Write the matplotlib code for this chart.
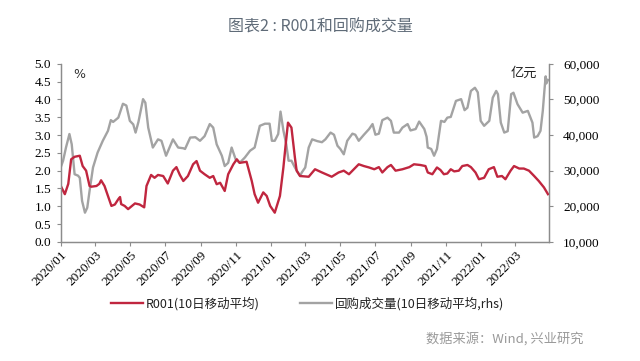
import numpy as np
import pandas as pd
import matplotlib
matplotlib.use("Agg")
import matplotlib.pyplot as plt
import matplotlib.dates as mdates
from matplotlib.ticker import FuncFormatter, MultipleLocator

# R001, 10-day moving average (%)
r001_dates = [
    "2020-01-01", "2020-01-08", "2020-01-14", "2020-01-19", "2020-01-25", "2020-02-03",
    "2020-02-08", "2020-02-14", "2020-02-20", "2020-02-23", "2020-03-03", "2020-03-08",
    "2020-03-11", "2020-03-17", "2020-03-23", "2020-03-29", "2020-04-04", "2020-04-10",
    "2020-04-13", "2020-04-15", "2020-04-21", "2020-04-27", "2020-05-03", "2020-05-09",
    "2020-05-17", "2020-05-25", "2020-05-29", "2020-06-06", "2020-06-12", "2020-06-18",
    "2020-06-27", "2020-07-05", "2020-07-14", "2020-07-20", "2020-07-26", "2020-08-01",
    "2020-08-09", "2020-08-18", "2020-08-24", "2020-08-30", "2020-09-07", "2020-09-16",
    "2020-09-22", "2020-09-28", "2020-10-04", "2020-10-12", "2020-10-18", "2020-10-27",
    "2020-11-02", "2020-11-07", "2020-11-19", "2020-11-28", "2020-12-03", "2020-12-09",
    "2020-12-18", "2020-12-24", "2020-12-30", "2021-01-07", "2021-01-16", "2021-01-22",
    "2021-01-26", "2021-01-30", "2021-02-05", "2021-02-11", "2021-02-14", "2021-02-20",
    "2021-03-07", "2021-03-18", "2021-03-30", "2021-04-16", "2021-04-28", "2021-05-07",
    "2021-05-16", "2021-06-02", "2021-06-11", "2021-06-20", "2021-06-29", "2021-07-07",
    "2021-07-13", "2021-07-22", "2021-07-28", "2021-08-05", "2021-08-17", "2021-08-29",
    "2021-09-06", "2021-09-17", "2021-09-26", "2021-09-30", "2021-10-08", "2021-10-16",
    "2021-10-22", "2021-10-28", "2021-11-03", "2021-11-09", "2021-11-15", "2021-11-23",
    "2021-11-29", "2021-12-08", "2021-12-14", "2021-12-22", "2021-12-28", "2022-01-06",
    "2022-01-14", "2022-01-23", "2022-01-29", "2022-02-06", "2022-02-12", "2022-02-21",
    "2022-02-27", "2022-03-08", "2022-03-16", "2022-03-25", "2022-04-03", "2022-04-11",
    "2022-04-20", "2022-04-27",
]
r001 = [
    1.57, 1.34, 1.63, 2.32, 2.39, 2.42,
    2.13, 2.00, 1.57, 1.55, 1.57, 1.63,
    1.73, 1.57, 1.29, 1.01, 1.05, 1.20,
    1.26, 1.06, 1.01, 0.92, 1.00, 1.08,
    1.05, 0.97, 1.57, 1.88, 1.80, 1.88,
    1.85, 1.64, 2.00, 2.10, 1.88, 1.71,
    1.85, 2.18, 2.27, 2.00, 1.90, 1.80,
    1.85, 1.62, 1.66, 1.43, 1.90, 2.18,
    2.32, 2.22, 2.25, 1.71, 1.34, 1.10,
    1.39, 1.29, 1.01, 0.82, 1.29, 2.09,
    2.74, 3.35, 3.21, 2.37, 2.00, 1.85,
    1.83, 2.04, 1.95, 1.83, 1.95, 2.00,
    1.90, 2.18, 2.13, 2.09, 2.04, 2.10,
    1.95, 2.10, 2.16, 2.00, 2.04, 2.10,
    2.18, 2.16, 2.13, 1.95, 1.90, 2.09,
    2.02, 1.90, 1.92, 2.04, 1.98, 2.00,
    2.13, 2.16, 2.10, 1.95, 1.76, 1.80,
    2.04, 2.10, 1.83, 1.85, 1.76, 2.00,
    2.13, 2.06, 2.06, 2.00, 1.85, 1.71,
    1.53, 1.34,
]

# repo turnover, 10-day moving average (100 million yuan, rhs)
repo_dates = [
    "2020-01-01", "2020-01-05", "2020-01-10", "2020-01-16", "2020-01-20", "2020-01-25",
    "2020-01-31", "2020-02-03", "2020-02-07", "2020-02-12", "2020-02-16", "2020-02-20",
    "2020-02-26", "2020-03-05", "2020-03-14", "2020-03-23", "2020-03-28", "2020-04-01",
    "2020-04-10", "2020-04-18", "2020-04-24", "2020-04-30", "2020-05-06", "2020-05-10",
    "2020-05-15", "2020-05-23", "2020-05-27", "2020-06-01", "2020-06-09", "2020-06-18",
    "2020-06-24", "2020-07-02", "2020-07-14", "2020-07-23", "2020-08-01", "2020-08-04",
    "2020-08-13", "2020-08-22", "2020-08-30", "2020-09-07", "2020-09-16", "2020-09-22",
    "2020-09-28", "2020-10-07", "2020-10-12", "2020-10-18", "2020-10-24", "2020-10-31",
    "2020-11-07", "2020-11-16", "2020-11-25", "2020-12-03", "2020-12-12", "2020-12-21",
    "2020-12-29", "2021-01-02", "2021-01-07", "2021-01-13", "2021-01-17", "2021-01-22",
    "2021-01-27", "2021-01-31", "2021-02-05", "2021-02-11", "2021-02-20", "2021-02-23",
    "2021-03-01", "2021-03-07", "2021-03-13", "2021-03-22", "2021-03-30", "2021-04-05",
    "2021-04-14", "2021-04-20", "2021-04-26", "2021-05-01", "2021-05-07", "2021-05-13",
    "2021-05-22", "2021-05-27", "2021-06-02", "2021-06-11", "2021-06-20", "2021-06-26",
    "2021-07-01", "2021-07-07", "2021-07-13", "2021-07-22", "2021-07-28", "2021-08-02",
    "2021-08-11", "2021-08-17", "2021-08-26", "2021-08-31", "2021-09-09", "2021-09-15",
    "2021-09-24", "2021-09-28", "2021-09-30", "2021-10-06", "2021-10-11", "2021-10-16",
    "2021-10-23", "2021-10-29", "2021-11-03", "2021-11-09", "2021-11-18", "2021-11-27",
    "2021-12-03", "2021-12-08", "2021-12-14", "2021-12-21", "2021-12-26", "2021-12-31",
    "2022-01-06", "2022-01-15", "2022-01-21", "2022-01-27", "2022-01-30", "2022-02-04",
    "2022-02-10", "2022-02-16", "2022-02-22", "2022-02-26", "2022-03-05", "2022-03-14",
    "2022-03-23", "2022-03-31", "2022-04-03", "2022-04-09", "2022-04-14", "2022-04-18",
    "2022-04-21", "2022-04-23", "2022-04-24", "2022-04-27",
]
repo_volume = [
    31000, 32800, 36500, 40300, 37400, 29000,
    28600, 28000, 21500, 18200, 19600, 24300,
    30900, 35100, 38400, 41200, 44200, 43700,
    44900, 48800, 48300, 44000, 43000, 40700,
    43700, 50100, 49100, 42100, 36500, 38800,
    38400, 34200, 38800, 36500, 36300, 36100,
    39300, 39400, 38400, 39700, 43100, 42100,
    37400, 34200, 31300, 32200, 36500, 33200,
    32200, 33700, 35600, 36500, 42600, 43200,
    43200, 38400, 38400, 40300, 46600, 41300,
    37400, 32800, 32800, 30900, 28500, 29500,
    30900, 36500, 38800, 38300, 38000, 38800,
    40700, 40100, 37000, 36100, 34600, 38400,
    40400, 40100, 38400, 40100, 41700, 43100,
    40100, 40400, 44200, 44900, 44000, 40700,
    40700, 42100, 43100, 41300, 41700, 43800,
    41700, 39500, 36500, 36100, 34200, 36100,
    44000, 43700, 44900, 45100, 49600, 50100,
    47000, 47700, 52400, 53300, 52000, 44000,
    42600, 44000, 50500, 52400, 51500, 43500,
    40700, 41100, 51500, 51900, 48700, 46300,
    46800, 43500, 39300, 39700, 41200, 46800,
    52900, 56500, 54500, 55500,
]

RED = "#C0263F"
GRAY = "#A3A3A3"
SPINE = "#8C8C8C"

plt.rcParams['font.family'] = ['Liberation Serif', 'Noto Sans CJK SC']
cjk = ['Noto Sans CJK SC', 'DejaVu Sans']

fig = plt.figure(figsize=(6.4, 3.61), dpi=100)
ax = fig.add_axes([0.095, 0.330, 0.763, 0.493])
ax2 = ax.twinx()

x_red = pd.to_datetime(r001_dates)
x_gray = pd.to_datetime(repo_dates)

ax2.plot(x_gray, repo_volume, color=GRAY, lw=1.7, solid_joinstyle='round')
ax.plot(x_red, r001, color=RED, lw=1.7, solid_joinstyle='round')
# red series drawn on top of gray
ax.set_zorder(ax2.get_zorder() + 1)
ax.patch.set_visible(False)

ax.set_ylim(0, 5)
ax.yaxis.set_major_locator(MultipleLocator(0.5))
ax.yaxis.set_major_formatter(FuncFormatter(lambda v, p: f"{v:.1f}"))
ax2.set_ylim(10000, 60000)
ax2.yaxis.set_major_locator(MultipleLocator(10000))
ax2.yaxis.set_major_formatter(FuncFormatter(lambda v, p: f"{v:,.0f}"))

ax.set_xlim(pd.Timestamp("2020-01-01"), pd.Timestamp("2022-04-29"))
ax.xaxis.set_major_locator(mdates.MonthLocator(bymonth=[1, 3, 5, 7, 9, 11]))
ax.xaxis.set_major_formatter(mdates.DateFormatter("%Y/%m"))
for lab in ax.get_xticklabels():
    lab.set_rotation(45)
    lab.set_ha('right')
    lab.set_rotation_mode('anchor')

for a in (ax, ax2):
    a.spines['top'].set_visible(False)
    for s in ('left', 'right', 'bottom'):
        a.spines[s].set_color(SPINE)
        a.spines[s].set_linewidth(0.9)
    a.tick_params(colors=SPINE, labelcolor='black', labelsize=9.5, length=3, width=0.8)
ax.tick_params(axis='y', pad=4)
ax2.tick_params(axis='y', pad=7)
ax.tick_params(axis='x', pad=2)

ax.text(0.025, 0.975, "%", transform=ax.transAxes, fontsize=9, va='top', ha='left',
        family=['DejaVu Sans'], color='#333333')
ax2.text(0.975, 0.985, "亿元", transform=ax2.transAxes, fontsize=9.5, va='top', ha='right',
         family=cjk, color='#222222')

fig.text(0.5, 0.925, "图表2 : R001和回购成交量", ha='center', va='center', fontsize=11.5,
         family=cjk, color='#5F6B78')

h1, = ax.plot([], [], color=RED, lw=1.7)
h2, = ax.plot([], [], color=GRAY, lw=1.7)
leg = fig.legend([h1, h2], ["R001(10日移动平均)", "回购成交量(10日移动平均,rhs)"],
                 loc='center', bbox_to_anchor=(0.48, 0.158), ncol=2, frameon=False,
                 handlelength=2.6, handletextpad=0.2, columnspacing=3.2,
                 prop={'family': cjk, 'size': 9})
for t in leg.get_texts():
    t.set_color('#222222')

fig.text(0.912, 0.062, "数据来源：Wind, 兴业研究", ha='right', va='center', fontsize=9.5,
         family=cjk, color='#9A9A9A')

fig.savefig("out.png", dpi=100)
